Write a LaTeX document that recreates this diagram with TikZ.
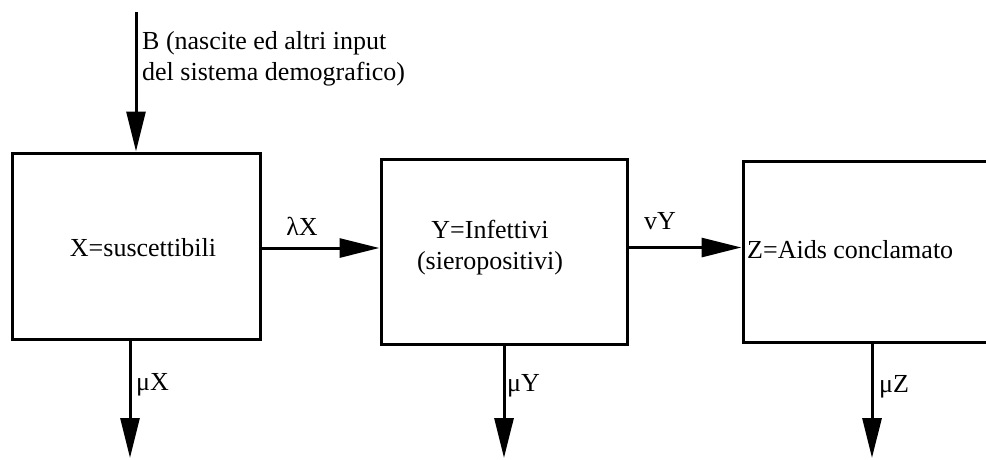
\documentclass[tikz,border=0pt]{standalone}
\usepackage{fontspec}
\setmainfont{Liberation Serif}
\usetikzlibrary{arrows.meta}
\begin{document}
\begin{tikzpicture}[x=1pt,y=-1pt,
  box/.style={draw, line width=3pt, inner sep=0pt},
  flow/.style={line width=3pt, -{Triangle[length=40pt,width=19pt]}},
  lbl/.style={font=\fontsize{26}{31}\selectfont, inner sep=1pt}]
\useasboundingbox (0,0) rectangle (986,459);
\clip (0,0) rectangle (986,459);
\node[box, minimum width=248pt, minimum height=186pt] (X) at (136,246) {};
\node[box, minimum width=246pt, minimum height=185pt] (Y) at (504,251.5) {};
\node[box, minimum width=258pt, minimum height=181pt] (Z) at (872,251.5) {};
\node[lbl] (tx) at (143,248) {X=suscettibili};
\node[lbl, align=center] (ty) at (490,248) {Y=Infettivi\\(sieropositivi)};
\node[lbl, anchor=west] (tz) at (746,250) {Z=Aids conclamato};
\node[lbl, anchor=north west, align=left] (tb) at (141,30) {B (nascite ed altri input\\del sistema demografico)};
\coordinate (bs) at (136,12);
\coordinate (mxe) at (130,458);
\coordinate (mye) at (504,458);
\coordinate (mze) at (872,458);
\draw[flow] (bs) -- (X.north);
\draw[flow] ([yshift=-2pt]X.east) -- ([yshift=-2pt]X.east -| Y.west);
\draw[flow] ([yshift=4pt]Y.east) -- ([yshift=4pt]Y.east -| Z.west);
\draw[flow] ([xshift=-6pt]X.south) -- (mxe);
\draw[flow] (Y.south) -- (mye);
\draw[flow] (Z.south) -- (mze);
\node[lbl] (lx) at (302,226) {λX};
\node[lbl] (vy) at (660,221) {vY};
\node[lbl, anchor=west] (mx) at (135,385) {μX};
\node[lbl, anchor=west] (my) at (506,386) {μY};
\node[lbl, anchor=west] (mz) at (878,387) {μZ};
\end{tikzpicture}
\end{document}
